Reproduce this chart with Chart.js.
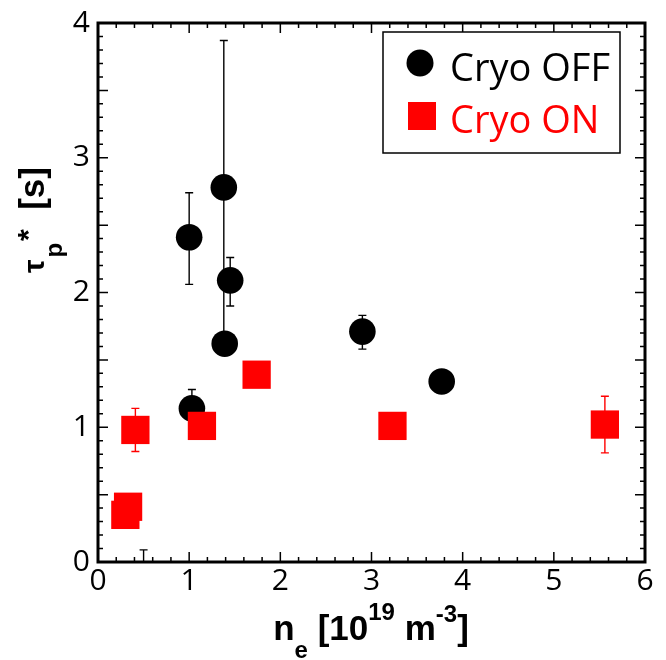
<!DOCTYPE html>
<html>
<head>
<meta charset="utf-8">
<script src="https://cdn.jsdelivr.net/npm/chart.js@4.4.0/dist/chart.umd.min.js"></script>
<style>
  body { margin: 0; background: #fff; }
</style>
</head>
<body>
<canvas id="grafik" width="666" height="660"></canvas>
<script>
// Cryo OFF (black circles) - last point sits below the axis, only its upper bar shows
const offX = [1.00, 1.38, 1.45, 1.39, 1.03, 2.90, 3.77, 0.50];
const offY = [2.41, 2.78, 2.09, 1.62, 1.14, 1.71, 1.34, -0.30];
const offLow = [2.06, 1.65, 1.90, null, null, 1.58, null, -0.60];
const offHigh = [2.74, 3.87, 2.26, null, 1.28, 1.83, null, 0.09];

// Cryo ON (red squares)
const onX = [0.41, 1.14, 1.74, 0.33, 0.30, 3.23, 5.56];
const onY = [0.98, 1.01, 1.39, 0.41, 0.35, 1.01, 1.02];
const onLow = [0.82, null, null, null, null, null, 0.81];
const onHigh = [1.14, null, null, null, null, null, 1.23];

const xTicks = [0, 1, 2, 3, 4, 5, 6];
const yTicks = [0, 1, 2, 3, 4];

const legendLabels = ['Cryo OFF', 'Cryo ON'];

function toPoints(xs, ys) {
    return xs.map((v, i) => ({ x: v, y: ys[i] }));
}

// vertical bar from low to high, cap only on ends that exist
function drawBars(ctx, sx, sy, xs, ys, lows, highs, color) {
    ctx.strokeStyle = color;
    ctx.lineWidth = 1.4;
    ctx.beginPath();
    for (let i = 0; i < xs.length; i++) {
        if (lows[i] === null && highs[i] === null) continue;
        const px = sx.getPixelForValue(xs[i]);
        const pyLo = sy.getPixelForValue(lows[i] !== null ? lows[i] : ys[i]);
        const pyHi = sy.getPixelForValue(highs[i] !== null ? highs[i] : ys[i]);
        ctx.moveTo(px, pyLo);
        ctx.lineTo(px, pyHi);
        if (lows[i] !== null) { ctx.moveTo(px - 4, pyLo); ctx.lineTo(px + 4, pyLo); }
        if (highs[i] !== null) { ctx.moveTo(px - 4, pyHi); ctx.lineTo(px + 4, pyHi); }
    }
    ctx.stroke();
}

const errorBars = {
    id: 'errorBars',
    beforeDatasetsDraw(chart) {
        const { ctx, chartArea: a, scales: { x, y } } = chart;
        ctx.save();
        ctx.beginPath();
        ctx.rect(a.left, a.top, a.right - a.left, a.bottom - a.top);
        ctx.clip();
        drawBars(ctx, x, y, offX, offY, offLow, offHigh, '#000');
        drawBars(ctx, x, y, onX, onY, onLow, onHigh, '#ff0000');
        ctx.restore();
    }
};

// frame + inward ticks on all four sides
const frame = {
    id: 'frame',
    afterDraw(chart) {
        const { ctx, chartArea: a, scales: { x, y } } = chart;
        ctx.save();
        ctx.strokeStyle = '#000';
        ctx.lineWidth = 1.5;
        ctx.beginPath();
        for (let i = 0; i <= 30; i++) {
            const px = x.getPixelForValue(i * 0.2);
            const len = i % 5 === 0 ? 10 : 5;
            ctx.moveTo(px, a.bottom); ctx.lineTo(px, a.bottom - len);
            ctx.moveTo(px, a.top); ctx.lineTo(px, a.top + len);
        }
        for (let i = 0; i <= 40; i++) {
            const py = y.getPixelForValue(i * 0.1);
            const len = i % 5 === 0 ? 10 : 5;
            ctx.moveTo(a.left, py); ctx.lineTo(a.left + len, py);
            ctx.moveTo(a.right, py); ctx.lineTo(a.right - len, py);
        }
        ctx.stroke();
        ctx.lineWidth = 3;
        ctx.strokeRect(a.left, a.top, a.right - a.left, a.bottom - a.top);
        ctx.restore();
    }
};

function setFont(ctx, size) {
    ctx.font = 'bold ' + size + 'px "Liberation Sans", Arial, sans-serif';
}

function runWidth(ctx, parts) {
    let w = 0;
    for (const p of parts) {
        setFont(ctx, p.size);
        w += ctx.measureText(p.t).width + (p.gap || 0);
    }
    return w;
}

function drawRun(ctx, parts, x0, y0) {
    let cx = x0;
    for (const p of parts) {
        setFont(ctx, p.size);
        ctx.fillText(p.t, cx, y0 + (p.dy || 0));
        cx += ctx.measureText(p.t).width + (p.gap || 0);
    }
}

const titles = {
    id: 'titles',
    afterDraw(chart) {
        const ctx = chart.ctx;
        ctx.save();
        ctx.fillStyle = '#000';
        ctx.textBaseline = 'alphabetic';
        ctx.textAlign = 'left';

        const xParts = [
            { t: 'n', size: 35 },
            { t: 'e', size: 24, dy: 18 },
            { t: ' [10', size: 35 },
            { t: '19', size: 24, dy: -20 },
            { t: ' m', size: 35 },
            { t: '-3', size: 24, dy: -18 },
            { t: ']', size: 35 }
        ];
        drawRun(ctx, xParts, 371 - runWidth(ctx, xParts) / 2, 640);

        ctx.translate(44, 273);
        ctx.rotate(-Math.PI / 2);
        drawRun(ctx, [
            { t: 'τ', size: 30, gap: 2 },
            { t: 'p', size: 24, dy: 18, gap: 2 },
            { t: '*', size: 30, dy: -6 },
            { t: '  [s]', size: 35 }
        ], 0, 0);
        ctx.restore();
    }
};

const legendBox = {
    id: 'legendBox',
    afterDraw(chart) {
        const ctx = chart.ctx;
        ctx.save();
        ctx.fillStyle = '#fff';
        ctx.fillRect(383, 32, 237, 121);
        ctx.strokeStyle = '#000';
        ctx.lineWidth = 1.5;
        ctx.strokeRect(383, 32, 237, 121);

        ctx.fillStyle = '#000';
        ctx.beginPath();
        ctx.arc(420, 63, 13.5, 0, Math.PI * 2);
        ctx.fill();
        ctx.fillStyle = '#ff0000';
        ctx.fillRect(408, 102, 28, 28);

        ctx.font = '38px "Open Sans", sans-serif';
        ctx.textBaseline = 'alphabetic';
        ctx.fillStyle = '#000';
        ctx.fillText(legendLabels[0], 450, 81);
        ctx.fillStyle = '#ff0000';
        ctx.fillText(legendLabels[1], 450, 133);
        ctx.restore();
    }
};

const tickFont = { family: '"Open Sans", sans-serif', size: 30, lineHeight: 1 };

new Chart(document.getElementById('grafik'), {
    type: 'scatter',
    data: {
        datasets: [
            {
                label: legendLabels[1],
                data: toPoints(onX, onY),
                pointStyle: 'rect',
                pointRadius: 20,
                pointHoverRadius: 20,
                backgroundColor: '#ff0000',
                borderWidth: 0,
                clip: 0,
                order: 0
            },
            {
                label: legendLabels[0],
                data: toPoints(offX, offY),
                pointStyle: 'circle',
                pointRadius: 13.3,
                pointHoverRadius: 13.3,
                backgroundColor: '#000',
                borderWidth: 0,
                clip: 0,
                order: 1
            }
        ]
    },
    options: {
        responsive: false,
        animation: false,
        layout: { padding: { top: 15, right: 21, left: 0, bottom: 0 } },
        plugins: { legend: { display: false }, tooltip: { enabled: false } },
        scales: {
            x: {
                type: 'linear',
                min: 0,
                max: 6,
                afterFit(s) { s.height = 98; },
                afterBuildTicks(s) { s.ticks = xTicks.map(v => ({ value: v })); },
                grid: { display: false, drawTicks: false },
                border: { display: false },
                ticks: { font: tickFont, color: '#000', padding: 4, maxRotation: 0 }
            },
            y: {
                type: 'linear',
                min: 0,
                max: 4,
                afterFit(s) { s.width = 98; },
                afterBuildTicks(s) { s.ticks = yTicks.map(v => ({ value: v })); },
                grid: { display: false, drawTicks: false },
                border: { display: false },
                ticks: { font: tickFont, color: '#000', padding: 8 }
            }
        }
    },
    plugins: [errorBars, frame, titles, legendBox]
});
</script>
</body>
</html>
